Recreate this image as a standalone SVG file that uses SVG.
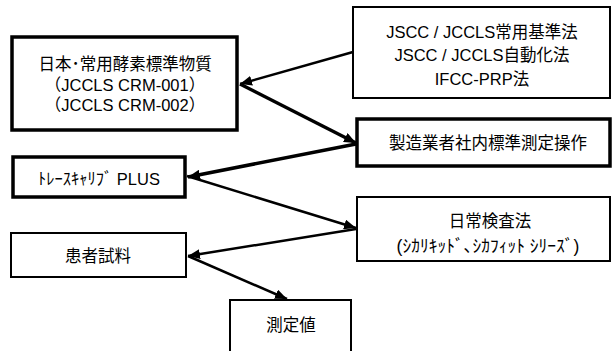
<svg xmlns="http://www.w3.org/2000/svg" width="612" height="351" viewBox="0 0 612 351">
<defs>
<style>
.box{fill:#fff;stroke:#000}
.thick{stroke-width:3.5}
.thin{stroke-width:2}
text{font-family:"Liberation Sans","Noto Sans CJK JP",sans-serif;font-size:16.5px;fill:#000;text-anchor:middle}
.c{stroke:#000;fill:none}
</style>
<marker id="ah" viewBox="0 0 12 10" refX="12" refY="5" markerWidth="12" markerHeight="10" markerUnits="userSpaceOnUse" orient="auto">
<path d="M0,0 L12,5 L0,10 z" fill="#000"/>
</marker>
</defs>
<rect width="612" height="351" fill="#fff"/>
<g id="connectors">
<line class="c" x1="353" y1="52" x2="240" y2="84" stroke-width="2.5" marker-end="url(#ah)"/>
<line class="c" x1="240" y1="84" x2="356" y2="143" stroke-width="3.5" marker-end="url(#ah)"/>
<line class="c" x1="356" y1="144" x2="188" y2="177" stroke-width="3.5" marker-end="url(#ah)"/>
<line class="c" x1="187" y1="176" x2="356" y2="228" stroke-width="2.5" marker-end="url(#ah)"/>
<line class="c" x1="356" y1="229" x2="188" y2="256" stroke-width="2.5" marker-end="url(#ah)"/>
<line class="c" x1="188" y1="256" x2="287" y2="299" stroke-width="2.5" marker-end="url(#ah)"/>
</g>
<g id="n1">
<rect class="box thick" x="12" y="37" width="225" height="93"/>
<text x="125" y="70">日本･常用酵素標準物質</text>
<text x="125" y="91">（JCCLS CRM-001）</text>
<text x="125" y="111">（JCCLS CRM-002）</text>
</g>
<g id="n2">
<rect class="box thin" x="353" y="7" width="257" height="91"/>
<text x="482" y="38">JSCC / JCCLS常用基準法</text>
<text x="482" y="61">JSCC / JCCLS自動化法</text>
<text x="482" y="85">IFCC-PRP法</text>
</g>
<g id="n3">
<rect class="box thick" x="357" y="119" width="253" height="47"/>
<text x="488" y="149">製造業者社内標準測定操作</text>
</g>
<g id="n4">
<rect class="box thick" x="13" y="157" width="172" height="40"/>
<text x="99" y="185">ﾄﾚｰｽｷｬﾘﾌﾞ PLUS</text>
</g>
<g id="n5">
<rect class="box thin" x="357" y="197" width="253" height="64"/>
<text x="490" y="227">日常検査法</text>
<text x="488" y="252" style="font-size:17.5px">(ｼｶﾘｷｯﾄﾞ､ｼｶﾌｨｯﾄ  ｼﾘｰｽﾞ)</text>
</g>
<g id="n6">
<rect class="box thin" x="11" y="233" width="175" height="44"/>
<text x="98" y="262">患者試料</text>
</g>
<g id="n7">
<rect class="box thin" x="230" y="300" width="121" height="60"/>
<text x="291" y="331">測定値</text>
</g>
</svg>
